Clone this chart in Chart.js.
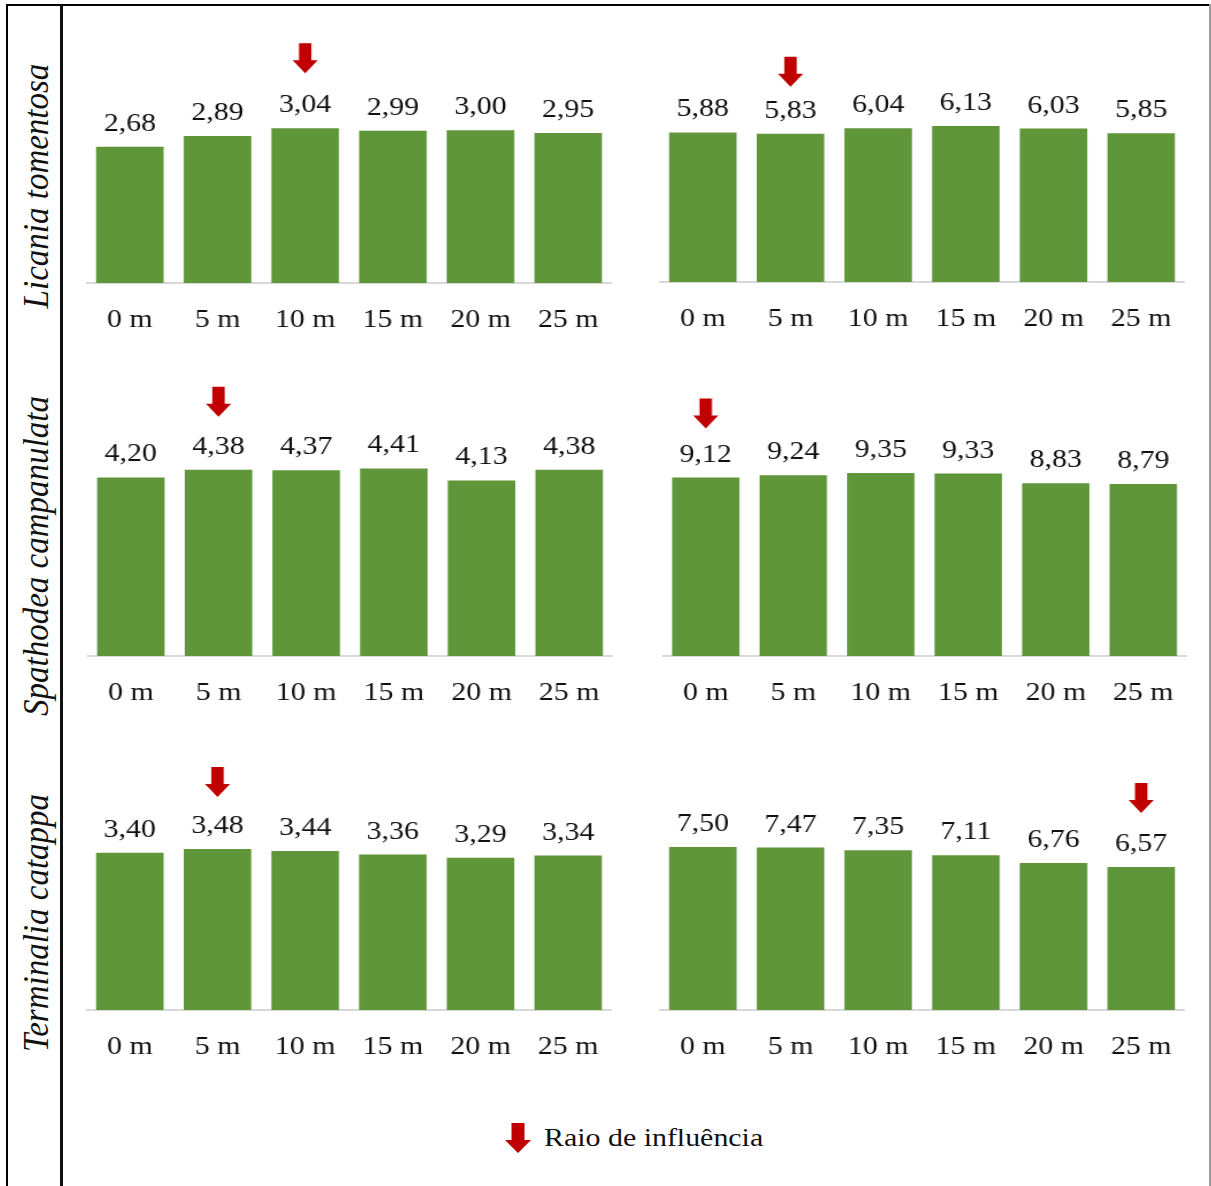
<!DOCTYPE html>
<html lang="pt">
<head>
<meta charset="utf-8">
<title>Raio de influência</title>
<script src="https://cdn.jsdelivr.net/npm/chart.js@4.4.1/dist/chart.umd.min.js"></script>
<style>
  html, body { margin: 0; padding: 0; background: #fff; }
  #page { position: relative; width: 1211px; height: 1186px; overflow: hidden; background: #fff; }
  .rule { position: absolute; }
  canvas { position: absolute; }
  .species {
    position: absolute; left: 36px; white-space: nowrap;
    font-family: "Liberation Serif", "Times New Roman", serif; font-style: italic;
    font-size: 33px; color: #111;
    transform: translate(-50%, -50%) rotate(-90deg) scaleY(1.1);
  }
  .legend {
    position: absolute; left: 505px; top: 1120px; height: 36px;
    display: flex; align-items: center;
    font-family: "Liberation Serif", "Times New Roman", serif; font-size: 26px; color: #111;
  }
  .legend .mark {
    width: 26px; height: 30px; margin-right: 13px; background: #c00000;
    clip-path: polygon(25% 0, 75% 0, 75% 57%, 100% 57%, 50% 100%, 0 57%, 25% 57%);
  }
  .legend span { display: inline-block; transform: scaleX(1.15); transform-origin: left center; }
</style>
</head>
<body>
<div id="page">
  <div class="rule" style="left:6px; top:4px; width:1204px; height:2px; background:#000;"></div>
  <div class="rule" style="left:6px; top:4px; width:2px; height:1182px; background:#000;"></div>
  <div class="rule" style="left:60px; top:5px; width:3px; height:1181px; background:#111;"></div>
  <div class="rule" style="left:1209px; top:4px; width:2px; height:1182px; background:#9a9a9a;"></div>

  <div class="species" style="top:186px;">Licania tomentosa</div>
  <div class="species" style="top:556px;">Spathodea campanulata</div>
  <div class="species" style="top:923px;">Terminalia catappa</div>

  <div class="legend"><div class="mark"></div><span>Raio de influência</span></div>
</div>

<script>
// Distance classes from the tree trunk
const distances = ['0 m', '5 m', '10 m', '15 m', '20 m', '25 m'];

// Mean values per distance, two panels per species
const licaniaLeft     = [2.68, 2.89, 3.04, 2.99, 3.00, 2.95];
const licaniaRight    = [5.88, 5.83, 6.04, 6.13, 6.03, 5.85];
const spathodeaLeft   = [4.20, 4.38, 4.37, 4.41, 4.13, 4.38];
const spathodeaRight  = [9.12, 9.24, 9.35, 9.33, 8.83, 8.79];
const terminaliaLeft  = [3.40, 3.48, 3.44, 3.36, 3.29, 3.34];
const terminaliaRight = [7.50, 7.47, 7.35, 7.11, 6.76, 6.57];

// Distance class marked as the radius of influence in each panel
const influenceLabels = ['10 m', '5 m', '5 m', '0 m', '5 m', '25 m'];

// Upper bound of the value axis in each panel
const axisMaxima = [3.5, 7, 5, 10, 4, 8];

const panelSeries = [licaniaLeft, licaniaRight, spathodeaLeft, spathodeaRight, terminaliaLeft, terminaliaRight];

// Placement of each panel on the page
const panelBoxes = [
  { left: 85.7,  right: 611.9,  top: 20,  plotTop: 104.9, bottom: 282.5, arrowGap: 55 },
  { left: 659.2, right: 1185.3, top: 20,  plotTop: 103.9, bottom: 281.7, arrowGap: 47 },
  { left: 87.2,  right: 613.3,  top: 370, plotTop: 443.4, bottom: 655.7, arrowGap: 53 },
  { left: 661.7, right: 1187.3, top: 370, plotTop: 460.4, bottom: 655.7, arrowGap: 49 },
  { left: 86.0,  right: 612.0,  top: 750, plotTop: 825.0, bottom: 1010.0, arrowGap: 52 },
  { left: 658.6, right: 1185.0, top: 750, plotTop: 836.0, bottom: 1010.0, arrowGap: 54 }
];

// The figure is set slightly wide: each canvas is drawn narrower and widened on the page
const STRETCH = 1.15;
const AXIS_HEIGHT = 60;
const SERIF = '"Liberation Serif", "Times New Roman", serif';
const BAR_GREEN = '#5f963a';
const ARROW_RED = '#c00000';

// Writes each value above its bar with a decimal comma
const valueLabels = {
  id: 'valueLabels',
  afterDatasetsDraw(chart) {
    const ctx = chart.ctx;
    const meta = chart.getDatasetMeta(0);
    const values = chart.data.datasets[0].data;
    ctx.save();
    ctx.font = '26px ' + SERIF;
    ctx.fillStyle = '#111';
    ctx.textAlign = 'center';
    ctx.textBaseline = 'alphabetic';
    meta.data.forEach((bar, i) => {
      ctx.fillText(values[i].toFixed(2).replace('.', ','), bar.x, bar.y - 16);
    });
    ctx.restore();
  }
};

// Red downward arrow over the bar of the radius of influence
const influenceArrow = {
  id: 'influenceArrow',
  afterDatasetsDraw(chart, args, opts) {
    const idx = chart.data.labels.indexOf(opts.label);
    if (idx < 0) return;
    const bar = chart.getDatasetMeta(0).data[idx];
    const tipY = bar.y - opts.gap;
    const x = bar.x;
    const stem = 6.2 / STRETCH;
    const head = 12.6 / STRETCH;
    const ctx = chart.ctx;
    ctx.save();
    ctx.fillStyle = ARROW_RED;
    ctx.beginPath();
    ctx.moveTo(x - stem, tipY - 30);
    ctx.lineTo(x + stem, tipY - 30);
    ctx.lineTo(x + stem, tipY - 13);
    ctx.lineTo(x + head, tipY - 13);
    ctx.lineTo(x, tipY);
    ctx.lineTo(x - head, tipY - 13);
    ctx.lineTo(x - stem, tipY - 13);
    ctx.closePath();
    ctx.fill();
    ctx.restore();
  }
};

const page = document.getElementById('page');

panelSeries.forEach((values, p) => {
  const box = panelBoxes[p];
  const shownWidth = box.right - box.left;
  const height = Math.round(box.bottom - box.top + AXIS_HEIGHT);
  const canvas = document.createElement('canvas');
  canvas.width = Math.round(shownWidth / STRETCH);
  canvas.height = height;
  canvas.style.left = box.left + 'px';
  canvas.style.top = box.top + 'px';
  canvas.style.width = shownWidth + 'px';
  canvas.style.height = height + 'px';
  page.appendChild(canvas);

  new Chart(canvas, {
    type: 'bar',
    data: {
      labels: distances,
      datasets: [{
        data: values,
        backgroundColor: BAR_GREEN,
        borderWidth: 0,
        categoryPercentage: 1,
        barPercentage: 0.77
      }]
    },
    plugins: [valueLabels, influenceArrow],
    options: {
      responsive: false,
      animation: false,
      devicePixelRatio: 1,
      layout: { padding: { top: box.plotTop - box.top, left: 0, right: 0, bottom: 0 } },
      plugins: {
        legend: { display: false },
        tooltip: { enabled: false },
        influenceArrow: { label: influenceLabels[p], gap: box.arrowGap }
      },
      scales: {
        x: {
          grid: { display: false, drawTicks: true, tickLength: 20 },
          border: { display: true, color: '#d9d9d9', width: 2 },
          ticks: { color: '#111', font: { family: SERIF, size: 26 }, padding: 2, maxRotation: 0, autoSkip: false },
          afterFit(scale) { scale.height = AXIS_HEIGHT; }
        },
        y: { display: false, min: 0, max: axisMaxima[p] }
      }
    }
  });
});
</script>
</body>
</html>
